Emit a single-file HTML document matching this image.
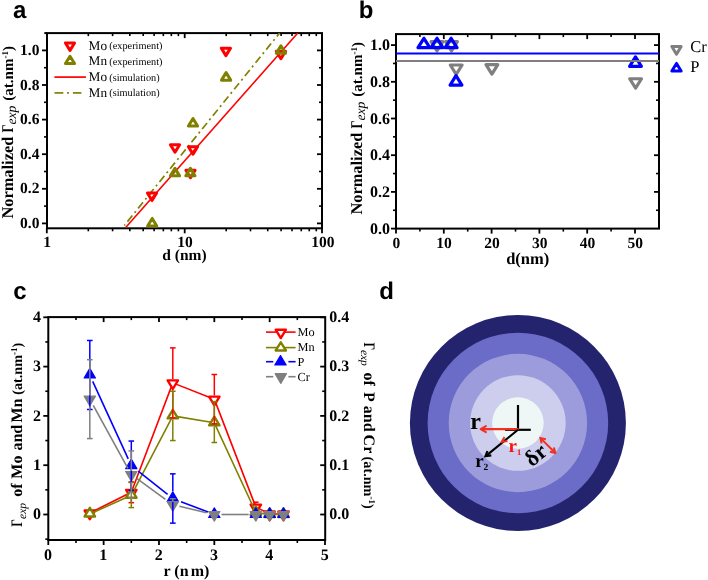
<!DOCTYPE html>
<html><head><meta charset="utf-8"><style>
html,body{margin:0;padding:0;background:#fff;}
svg{display:block;will-change:transform;text-rendering:geometricPrecision;}
</style></head><body>
<svg width="708" height="580" viewBox="0 0 708 580">
<rect width="708" height="580" fill="#fff"/>
<text x="13.00" y="17.50" font-size="24" font-weight="bold" text-anchor="start" fill="#000" style="font-family:'Liberation Sans',sans-serif" >a</text>
<text x="358.80" y="17.50" font-size="24" font-weight="bold" text-anchor="start" fill="#000" style="font-family:'Liberation Sans',sans-serif" >b</text>
<text x="13.30" y="298.80" font-size="24" font-weight="bold" text-anchor="start" fill="#000" style="font-family:'Liberation Sans',sans-serif" >c</text>
<text x="379.20" y="298.80" font-size="24" font-weight="bold" text-anchor="start" fill="#000" style="font-family:'Liberation Sans',sans-serif" >d</text>
<line x1="88.31" y1="228.30" x2="88.31" y2="231.30" stroke="#000" stroke-width="1.6" />
<line x1="88.31" y1="33.10" x2="88.31" y2="36.10" stroke="#000" stroke-width="1.6" />
<line x1="112.60" y1="228.30" x2="112.60" y2="231.30" stroke="#000" stroke-width="1.6" />
<line x1="112.60" y1="33.10" x2="112.60" y2="36.10" stroke="#000" stroke-width="1.6" />
<line x1="129.82" y1="228.30" x2="129.82" y2="231.30" stroke="#000" stroke-width="1.6" />
<line x1="129.82" y1="33.10" x2="129.82" y2="36.10" stroke="#000" stroke-width="1.6" />
<line x1="143.19" y1="228.30" x2="143.19" y2="231.30" stroke="#000" stroke-width="1.6" />
<line x1="143.19" y1="33.10" x2="143.19" y2="36.10" stroke="#000" stroke-width="1.6" />
<line x1="154.11" y1="228.30" x2="154.11" y2="231.30" stroke="#000" stroke-width="1.6" />
<line x1="154.11" y1="33.10" x2="154.11" y2="36.10" stroke="#000" stroke-width="1.6" />
<line x1="163.34" y1="228.30" x2="163.34" y2="231.30" stroke="#000" stroke-width="1.6" />
<line x1="163.34" y1="33.10" x2="163.34" y2="36.10" stroke="#000" stroke-width="1.6" />
<line x1="171.34" y1="228.30" x2="171.34" y2="231.30" stroke="#000" stroke-width="1.6" />
<line x1="171.34" y1="33.10" x2="171.34" y2="36.10" stroke="#000" stroke-width="1.6" />
<line x1="178.39" y1="228.30" x2="178.39" y2="231.30" stroke="#000" stroke-width="1.6" />
<line x1="178.39" y1="33.10" x2="178.39" y2="36.10" stroke="#000" stroke-width="1.6" />
<line x1="226.21" y1="228.30" x2="226.21" y2="231.30" stroke="#000" stroke-width="1.6" />
<line x1="226.21" y1="33.10" x2="226.21" y2="36.10" stroke="#000" stroke-width="1.6" />
<line x1="250.50" y1="228.30" x2="250.50" y2="231.30" stroke="#000" stroke-width="1.6" />
<line x1="250.50" y1="33.10" x2="250.50" y2="36.10" stroke="#000" stroke-width="1.6" />
<line x1="267.72" y1="228.30" x2="267.72" y2="231.30" stroke="#000" stroke-width="1.6" />
<line x1="267.72" y1="33.10" x2="267.72" y2="36.10" stroke="#000" stroke-width="1.6" />
<line x1="281.09" y1="228.30" x2="281.09" y2="231.30" stroke="#000" stroke-width="1.6" />
<line x1="281.09" y1="33.10" x2="281.09" y2="36.10" stroke="#000" stroke-width="1.6" />
<line x1="292.01" y1="228.30" x2="292.01" y2="231.30" stroke="#000" stroke-width="1.6" />
<line x1="292.01" y1="33.10" x2="292.01" y2="36.10" stroke="#000" stroke-width="1.6" />
<line x1="301.24" y1="228.30" x2="301.24" y2="231.30" stroke="#000" stroke-width="1.6" />
<line x1="301.24" y1="33.10" x2="301.24" y2="36.10" stroke="#000" stroke-width="1.6" />
<line x1="309.24" y1="228.30" x2="309.24" y2="231.30" stroke="#000" stroke-width="1.6" />
<line x1="309.24" y1="33.10" x2="309.24" y2="36.10" stroke="#000" stroke-width="1.6" />
<line x1="316.29" y1="228.30" x2="316.29" y2="231.30" stroke="#000" stroke-width="1.6" />
<line x1="316.29" y1="33.10" x2="316.29" y2="36.10" stroke="#000" stroke-width="1.6" />
<line x1="46.80" y1="228.30" x2="46.80" y2="233.30" stroke="#000" stroke-width="1.8" />
<line x1="184.70" y1="228.30" x2="184.70" y2="233.30" stroke="#000" stroke-width="1.8" />
<line x1="184.70" y1="33.10" x2="184.70" y2="38.10" stroke="#000" stroke-width="1.8" />
<line x1="322.00" y1="228.30" x2="322.00" y2="233.30" stroke="#000" stroke-width="1.8" />
<line x1="42.00" y1="223.40" x2="47.00" y2="223.40" stroke="#000" stroke-width="1.8" />
<line x1="317.00" y1="223.40" x2="322.00" y2="223.40" stroke="#000" stroke-width="1.8" />
<text x="39.40" y="228.00" font-size="15.5" font-weight="bold" text-anchor="end" fill="#000" style="font-family:'Liberation Serif',serif" >0.0</text>
<line x1="42.00" y1="188.80" x2="47.00" y2="188.80" stroke="#000" stroke-width="1.8" />
<line x1="317.00" y1="188.80" x2="322.00" y2="188.80" stroke="#000" stroke-width="1.8" />
<text x="39.40" y="193.40" font-size="15.5" font-weight="bold" text-anchor="end" fill="#000" style="font-family:'Liberation Serif',serif" >0.2</text>
<line x1="42.00" y1="154.20" x2="47.00" y2="154.20" stroke="#000" stroke-width="1.8" />
<line x1="317.00" y1="154.20" x2="322.00" y2="154.20" stroke="#000" stroke-width="1.8" />
<text x="39.40" y="158.80" font-size="15.5" font-weight="bold" text-anchor="end" fill="#000" style="font-family:'Liberation Serif',serif" >0.4</text>
<line x1="42.00" y1="119.60" x2="47.00" y2="119.60" stroke="#000" stroke-width="1.8" />
<line x1="317.00" y1="119.60" x2="322.00" y2="119.60" stroke="#000" stroke-width="1.8" />
<text x="39.40" y="124.20" font-size="15.5" font-weight="bold" text-anchor="end" fill="#000" style="font-family:'Liberation Serif',serif" >0.6</text>
<line x1="42.00" y1="85.00" x2="47.00" y2="85.00" stroke="#000" stroke-width="1.8" />
<line x1="317.00" y1="85.00" x2="322.00" y2="85.00" stroke="#000" stroke-width="1.8" />
<text x="39.40" y="89.60" font-size="15.5" font-weight="bold" text-anchor="end" fill="#000" style="font-family:'Liberation Serif',serif" >0.8</text>
<line x1="42.00" y1="50.40" x2="47.00" y2="50.40" stroke="#000" stroke-width="1.8" />
<line x1="317.00" y1="50.40" x2="322.00" y2="50.40" stroke="#000" stroke-width="1.8" />
<text x="39.40" y="55.00" font-size="15.5" font-weight="bold" text-anchor="end" fill="#000" style="font-family:'Liberation Serif',serif" >1.0</text>
<line x1="44.00" y1="206.10" x2="47.00" y2="206.10" stroke="#000" stroke-width="1.6" />
<line x1="319.00" y1="206.10" x2="322.00" y2="206.10" stroke="#000" stroke-width="1.6" />
<line x1="44.00" y1="171.50" x2="47.00" y2="171.50" stroke="#000" stroke-width="1.6" />
<line x1="319.00" y1="171.50" x2="322.00" y2="171.50" stroke="#000" stroke-width="1.6" />
<line x1="44.00" y1="136.90" x2="47.00" y2="136.90" stroke="#000" stroke-width="1.6" />
<line x1="319.00" y1="136.90" x2="322.00" y2="136.90" stroke="#000" stroke-width="1.6" />
<line x1="44.00" y1="102.30" x2="47.00" y2="102.30" stroke="#000" stroke-width="1.6" />
<line x1="319.00" y1="102.30" x2="322.00" y2="102.30" stroke="#000" stroke-width="1.6" />
<line x1="44.00" y1="67.70" x2="47.00" y2="67.70" stroke="#000" stroke-width="1.6" />
<line x1="319.00" y1="67.70" x2="322.00" y2="67.70" stroke="#000" stroke-width="1.6" />
<rect x="47.0" y="33.1" width="275.0" height="195.20000000000002" fill="none" stroke="#000" stroke-width="2.0"/>
<line x1="44.30" y1="33.10" x2="47.00" y2="33.10" stroke="#000" stroke-width="2.0" />
<text x="47.10" y="247.30" font-size="15.5" font-weight="bold" text-anchor="middle" fill="#000" style="font-family:'Liberation Serif',serif" >1</text>
<text x="185.00" y="247.30" font-size="15.5" font-weight="bold" text-anchor="middle" fill="#000" style="font-family:'Liberation Serif',serif" >10</text>
<text x="322.90" y="247.30" font-size="15.5" font-weight="bold" text-anchor="middle" fill="#000" style="font-family:'Liberation Serif',serif" >100</text>
<text x="184.50" y="259.60" font-size="15.5" font-weight="bold" text-anchor="middle" fill="#000" style="font-family:'Liberation Serif',serif" >d (nm)</text>
<text transform="translate(13.2,218.6) rotate(-90)" font-weight="bold" style="font-family:'Liberation Serif',serif" font-size="16.4">Normalized <tspan textLength="8.0" lengthAdjust="spacingAndGlyphs">Γ</tspan><tspan font-style="italic" font-weight="normal" font-size="13.6" dy="2.5">exp</tspan><tspan font-size="15" dy="-2.5" dx="1.3"> (at.nm</tspan><tspan font-size="9" dy="-5.5">-1</tspan><tspan font-size="15" dy="5.5">)</tspan></text>
<svg x="47.0" y="33.1" width="275.0" height="195.20000000000002" overflow="hidden" viewBox="47.0 33.1 275.0 195.20000000000002">
<line x1="125.90" y1="227.20" x2="297.80" y2="33.00" stroke="#ff0000" stroke-width="1.6" />
<line x1="124.30" y1="225.50" x2="279.60" y2="33.00" stroke="#808000" stroke-width="1.7" stroke-dasharray="2.0 3.6 7.8 3.6" stroke-dashoffset="0.6"/>
</svg>
<path d="M152.00,200.55 L147.40,193.05 L156.60,193.05 Z" fill="none" stroke="#ff0000" stroke-width="3.0" stroke-linejoin="round"/>
<path d="M175.00,152.25 L170.40,144.75 L179.60,144.75 Z" fill="none" stroke="#ff0000" stroke-width="3.0" stroke-linejoin="round"/>
<path d="M190.50,177.75 L185.90,170.25 L195.10,170.25 Z" fill="none" stroke="#ff0000" stroke-width="3.0" stroke-linejoin="round"/>
<path d="M193.00,154.25 L188.40,146.75 L197.60,146.75 Z" fill="none" stroke="#ff0000" stroke-width="3.0" stroke-linejoin="round"/>
<path d="M225.90,55.65 L221.30,48.15 L230.50,48.15 Z" fill="none" stroke="#ff0000" stroke-width="3.0" stroke-linejoin="round"/>
<path d="M280.90,58.75 L276.30,51.25 L285.50,51.25 Z" fill="none" stroke="#ff0000" stroke-width="3.0" stroke-linejoin="round"/>
<path d="M152.20,218.45 L147.60,225.95 L156.80,225.95 Z" fill="none" stroke="#808000" stroke-width="3.0" stroke-linejoin="round"/>
<path d="M175.00,168.35 L170.40,175.85 L179.60,175.85 Z" fill="none" stroke="#808000" stroke-width="3.0" stroke-linejoin="round"/>
<path d="M190.40,168.25 L185.80,175.75 L195.00,175.75 Z" fill="none" stroke="#808000" stroke-width="3.0" stroke-linejoin="round"/>
<path d="M193.00,118.55 L188.40,126.05 L197.60,126.05 Z" fill="none" stroke="#808000" stroke-width="3.0" stroke-linejoin="round"/>
<path d="M226.10,72.65 L221.50,80.15 L230.70,80.15 Z" fill="none" stroke="#808000" stroke-width="3.0" stroke-linejoin="round"/>
<path d="M280.90,45.75 L276.30,53.25 L285.50,53.25 Z" fill="none" stroke="#808000" stroke-width="3.0" stroke-linejoin="round"/>
<path d="M70.00,50.50 L65.45,42.90 L74.55,42.90 Z" fill="none" stroke="#ff0000" stroke-width="3.0" stroke-linejoin="round"/>
<path d="M70.00,56.25 L65.45,63.55 L74.55,63.55 Z" fill="none" stroke="#808000" stroke-width="3.0" stroke-linejoin="round"/>
<line x1="54.40" y1="77.10" x2="85.90" y2="77.10" stroke="#ff0000" stroke-width="1.7" />
<line x1="54.50" y1="92.90" x2="63.30" y2="92.90" stroke="#808000" stroke-width="1.7" />
<line x1="67.00" y1="92.90" x2="68.90" y2="92.90" stroke="#808000" stroke-width="1.7" />
<line x1="72.90" y1="92.90" x2="81.40" y2="92.90" stroke="#808000" stroke-width="1.7" />
<text x="88.60" y="49.50" font-size="13.3" font-weight="normal" text-anchor="start" fill="#000" style="font-family:'Liberation Serif',serif" >Mo</text>
<text x="109.30" y="49.10" font-size="10.3" font-weight="normal" text-anchor="start" fill="#000" style="font-family:'Liberation Serif',serif" >(experiment)</text>
<text x="88.60" y="65.00" font-size="13.3" font-weight="normal" text-anchor="start" fill="#000" style="font-family:'Liberation Serif',serif" >Mn</text>
<text x="109.30" y="64.60" font-size="10.3" font-weight="normal" text-anchor="start" fill="#000" style="font-family:'Liberation Serif',serif" >(experiment)</text>
<text x="88.60" y="81.30" font-size="13.3" font-weight="normal" text-anchor="start" fill="#000" style="font-family:'Liberation Serif',serif" >Mo</text>
<text x="109.30" y="80.90" font-size="10.3" font-weight="normal" text-anchor="start" fill="#000" style="font-family:'Liberation Serif',serif" >(simulation)</text>
<text x="88.60" y="96.60" font-size="13.3" font-weight="normal" text-anchor="start" fill="#000" style="font-family:'Liberation Serif',serif" >Mn</text>
<text x="109.30" y="96.20" font-size="10.3" font-weight="normal" text-anchor="start" fill="#000" style="font-family:'Liberation Serif',serif" >(simulation)</text>
<line x1="396.00" y1="228.60" x2="396.00" y2="233.60" stroke="#000" stroke-width="1.8" />
<line x1="419.90" y1="228.60" x2="419.90" y2="231.60" stroke="#000" stroke-width="1.6" />
<line x1="419.90" y1="34.10" x2="419.90" y2="37.10" stroke="#000" stroke-width="1.6" />
<line x1="443.80" y1="228.60" x2="443.80" y2="233.60" stroke="#000" stroke-width="1.8" />
<line x1="443.80" y1="34.10" x2="443.80" y2="39.10" stroke="#000" stroke-width="1.8" />
<line x1="467.70" y1="228.60" x2="467.70" y2="231.60" stroke="#000" stroke-width="1.6" />
<line x1="467.70" y1="34.10" x2="467.70" y2="37.10" stroke="#000" stroke-width="1.6" />
<line x1="491.60" y1="228.60" x2="491.60" y2="233.60" stroke="#000" stroke-width="1.8" />
<line x1="491.60" y1="34.10" x2="491.60" y2="39.10" stroke="#000" stroke-width="1.8" />
<line x1="515.50" y1="228.60" x2="515.50" y2="231.60" stroke="#000" stroke-width="1.6" />
<line x1="515.50" y1="34.10" x2="515.50" y2="37.10" stroke="#000" stroke-width="1.6" />
<line x1="539.40" y1="228.60" x2="539.40" y2="233.60" stroke="#000" stroke-width="1.8" />
<line x1="539.40" y1="34.10" x2="539.40" y2="39.10" stroke="#000" stroke-width="1.8" />
<line x1="563.30" y1="228.60" x2="563.30" y2="231.60" stroke="#000" stroke-width="1.6" />
<line x1="563.30" y1="34.10" x2="563.30" y2="37.10" stroke="#000" stroke-width="1.6" />
<line x1="587.20" y1="228.60" x2="587.20" y2="233.60" stroke="#000" stroke-width="1.8" />
<line x1="587.20" y1="34.10" x2="587.20" y2="39.10" stroke="#000" stroke-width="1.8" />
<line x1="611.10" y1="228.60" x2="611.10" y2="231.60" stroke="#000" stroke-width="1.6" />
<line x1="611.10" y1="34.10" x2="611.10" y2="37.10" stroke="#000" stroke-width="1.6" />
<line x1="635.00" y1="228.60" x2="635.00" y2="233.60" stroke="#000" stroke-width="1.8" />
<line x1="635.00" y1="34.10" x2="635.00" y2="39.10" stroke="#000" stroke-width="1.8" />
<line x1="391.00" y1="228.60" x2="396.00" y2="228.60" stroke="#000" stroke-width="1.8" />
<text x="389.90" y="233.70" font-size="16" font-weight="bold" text-anchor="end" fill="#000" style="font-family:'Liberation Serif',serif" >0.0</text>
<line x1="393.00" y1="210.25" x2="396.00" y2="210.25" stroke="#000" stroke-width="1.6" />
<line x1="656.00" y1="210.25" x2="659.00" y2="210.25" stroke="#000" stroke-width="1.6" />
<line x1="391.00" y1="191.90" x2="396.00" y2="191.90" stroke="#000" stroke-width="1.8" />
<line x1="654.00" y1="191.90" x2="659.00" y2="191.90" stroke="#000" stroke-width="1.8" />
<text x="389.90" y="197.00" font-size="16" font-weight="bold" text-anchor="end" fill="#000" style="font-family:'Liberation Serif',serif" >0.2</text>
<line x1="393.00" y1="173.55" x2="396.00" y2="173.55" stroke="#000" stroke-width="1.6" />
<line x1="656.00" y1="173.55" x2="659.00" y2="173.55" stroke="#000" stroke-width="1.6" />
<line x1="391.00" y1="155.20" x2="396.00" y2="155.20" stroke="#000" stroke-width="1.8" />
<line x1="654.00" y1="155.20" x2="659.00" y2="155.20" stroke="#000" stroke-width="1.8" />
<text x="389.90" y="160.30" font-size="16" font-weight="bold" text-anchor="end" fill="#000" style="font-family:'Liberation Serif',serif" >0.4</text>
<line x1="393.00" y1="136.85" x2="396.00" y2="136.85" stroke="#000" stroke-width="1.6" />
<line x1="656.00" y1="136.85" x2="659.00" y2="136.85" stroke="#000" stroke-width="1.6" />
<line x1="391.00" y1="118.50" x2="396.00" y2="118.50" stroke="#000" stroke-width="1.8" />
<line x1="654.00" y1="118.50" x2="659.00" y2="118.50" stroke="#000" stroke-width="1.8" />
<text x="389.90" y="123.60" font-size="16" font-weight="bold" text-anchor="end" fill="#000" style="font-family:'Liberation Serif',serif" >0.6</text>
<line x1="393.00" y1="100.15" x2="396.00" y2="100.15" stroke="#000" stroke-width="1.6" />
<line x1="656.00" y1="100.15" x2="659.00" y2="100.15" stroke="#000" stroke-width="1.6" />
<line x1="391.00" y1="81.80" x2="396.00" y2="81.80" stroke="#000" stroke-width="1.8" />
<line x1="654.00" y1="81.80" x2="659.00" y2="81.80" stroke="#000" stroke-width="1.8" />
<text x="389.90" y="86.90" font-size="16" font-weight="bold" text-anchor="end" fill="#000" style="font-family:'Liberation Serif',serif" >0.8</text>
<line x1="393.00" y1="63.45" x2="396.00" y2="63.45" stroke="#000" stroke-width="1.6" />
<line x1="656.00" y1="63.45" x2="659.00" y2="63.45" stroke="#000" stroke-width="1.6" />
<line x1="391.00" y1="45.10" x2="396.00" y2="45.10" stroke="#000" stroke-width="1.8" />
<line x1="654.00" y1="45.10" x2="659.00" y2="45.10" stroke="#000" stroke-width="1.8" />
<text x="389.90" y="50.20" font-size="16" font-weight="bold" text-anchor="end" fill="#000" style="font-family:'Liberation Serif',serif" >1.0</text>
<text x="396.30" y="247.90" font-size="15.5" font-weight="bold" text-anchor="middle" fill="#000" style="font-family:'Liberation Serif',serif" >0</text>
<text x="444.10" y="247.90" font-size="15.5" font-weight="bold" text-anchor="middle" fill="#000" style="font-family:'Liberation Serif',serif" >10</text>
<text x="491.90" y="247.90" font-size="15.5" font-weight="bold" text-anchor="middle" fill="#000" style="font-family:'Liberation Serif',serif" >20</text>
<text x="539.70" y="247.90" font-size="15.5" font-weight="bold" text-anchor="middle" fill="#000" style="font-family:'Liberation Serif',serif" >30</text>
<text x="587.50" y="247.90" font-size="15.5" font-weight="bold" text-anchor="middle" fill="#000" style="font-family:'Liberation Serif',serif" >40</text>
<text x="635.30" y="247.90" font-size="15.5" font-weight="bold" text-anchor="middle" fill="#000" style="font-family:'Liberation Serif',serif" >50</text>
<text x="527.70" y="264.00" font-size="16.5" font-weight="bold" text-anchor="middle" fill="#000" style="font-family:'Liberation Serif',serif" >d(nm)</text>
<text transform="translate(362.3,214.6) rotate(-90)" font-weight="bold" style="font-family:'Liberation Serif',serif" font-size="16.4">Normalized <tspan textLength="8.0" lengthAdjust="spacingAndGlyphs">Γ</tspan><tspan font-style="italic" font-weight="normal" font-size="13.6" dy="2.5">exp</tspan><tspan font-size="15" dy="-2.5" dx="1.3"> (at.nm</tspan><tspan font-size="9" dy="-5.5">-1</tspan><tspan font-size="15" dy="5.5">)</tspan></text>
<rect x="396.0" y="34.1" width="263.0" height="194.5" fill="none" stroke="#000" stroke-width="2.0"/>
<path d="M437.00,51.00 L431.10,41.60 L442.90,41.60 Z" fill="none" stroke="#7f7f7f" stroke-width="3.2" stroke-linejoin="round"/>
<path d="M451.50,51.00 L445.60,41.60 L457.40,41.60 Z" fill="none" stroke="#7f7f7f" stroke-width="3.2" stroke-linejoin="round"/>
<path d="M456.20,74.40 L450.30,65.00 L462.10,65.00 Z" fill="none" stroke="#7f7f7f" stroke-width="3.2" stroke-linejoin="round"/>
<path d="M491.90,74.05 L486.00,64.65 L497.80,64.65 Z" fill="none" stroke="#7f7f7f" stroke-width="3.2" stroke-linejoin="round"/>
<path d="M635.60,88.15 L629.70,78.75 L641.50,78.75 Z" fill="none" stroke="#7f7f7f" stroke-width="3.2" stroke-linejoin="round"/>
<path d="M423.90,38.30 L418.00,47.70 L429.80,47.70 Z" fill="none" stroke="#0000ff" stroke-width="3.2" stroke-linejoin="round"/>
<path d="M437.00,38.30 L431.10,47.70 L442.90,47.70 Z" fill="none" stroke="#0000ff" stroke-width="3.2" stroke-linejoin="round"/>
<path d="M451.10,38.30 L445.20,47.70 L457.00,47.70 Z" fill="none" stroke="#0000ff" stroke-width="3.2" stroke-linejoin="round"/>
<path d="M456.00,75.70 L450.10,85.10 L461.90,85.10 Z" fill="none" stroke="#0000ff" stroke-width="3.2" stroke-linejoin="round"/>
<path d="M635.50,56.90 L629.60,66.30 L641.40,66.30 Z" fill="none" stroke="#0000ff" stroke-width="3.2" stroke-linejoin="round"/>
<line x1="396.00" y1="53.60" x2="659.00" y2="53.60" stroke="#0000ff" stroke-width="2.0" />
<line x1="396.00" y1="61.00" x2="659.00" y2="61.00" stroke="#7f7f7f" stroke-width="2.0" />
<path d="M676.50,54.20 L671.85,46.40 L681.15,46.40 Z" fill="none" stroke="#7f7f7f" stroke-width="3.0" stroke-linejoin="round"/>
<path d="M676.50,63.45 L671.85,70.95 L681.15,70.95 Z" fill="none" stroke="#0000ff" stroke-width="3.0" stroke-linejoin="round"/>
<text x="690.30" y="51.80" font-size="16.5" font-weight="normal" text-anchor="start" fill="#000" style="font-family:'Liberation Serif',serif" >Cr</text>
<text x="690.30" y="71.50" font-size="16.5" font-weight="normal" text-anchor="start" fill="#000" style="font-family:'Liberation Serif',serif" >P</text>
<line x1="48.30" y1="540.00" x2="48.30" y2="545.00" stroke="#000" stroke-width="1.8" />
<text x="48.00" y="560.20" font-size="16" font-weight="bold" text-anchor="middle" fill="#000" style="font-family:'Liberation Serif',serif" >0</text>
<line x1="75.97" y1="540.00" x2="75.97" y2="543.00" stroke="#000" stroke-width="1.6" />
<line x1="75.97" y1="317.10" x2="75.97" y2="320.10" stroke="#000" stroke-width="1.6" />
<line x1="103.64" y1="540.00" x2="103.64" y2="545.00" stroke="#000" stroke-width="1.8" />
<line x1="103.64" y1="317.10" x2="103.64" y2="322.10" stroke="#000" stroke-width="1.8" />
<text x="103.34" y="560.20" font-size="16" font-weight="bold" text-anchor="middle" fill="#000" style="font-family:'Liberation Serif',serif" >1</text>
<line x1="131.31" y1="540.00" x2="131.31" y2="543.00" stroke="#000" stroke-width="1.6" />
<line x1="131.31" y1="317.10" x2="131.31" y2="320.10" stroke="#000" stroke-width="1.6" />
<line x1="158.98" y1="540.00" x2="158.98" y2="545.00" stroke="#000" stroke-width="1.8" />
<line x1="158.98" y1="317.10" x2="158.98" y2="322.10" stroke="#000" stroke-width="1.8" />
<text x="158.68" y="560.20" font-size="16" font-weight="bold" text-anchor="middle" fill="#000" style="font-family:'Liberation Serif',serif" >2</text>
<line x1="186.65" y1="540.00" x2="186.65" y2="543.00" stroke="#000" stroke-width="1.6" />
<line x1="186.65" y1="317.10" x2="186.65" y2="320.10" stroke="#000" stroke-width="1.6" />
<line x1="214.32" y1="540.00" x2="214.32" y2="545.00" stroke="#000" stroke-width="1.8" />
<line x1="214.32" y1="317.10" x2="214.32" y2="322.10" stroke="#000" stroke-width="1.8" />
<text x="214.02" y="560.20" font-size="16" font-weight="bold" text-anchor="middle" fill="#000" style="font-family:'Liberation Serif',serif" >3</text>
<line x1="241.99" y1="540.00" x2="241.99" y2="543.00" stroke="#000" stroke-width="1.6" />
<line x1="241.99" y1="317.10" x2="241.99" y2="320.10" stroke="#000" stroke-width="1.6" />
<line x1="269.66" y1="540.00" x2="269.66" y2="545.00" stroke="#000" stroke-width="1.8" />
<line x1="269.66" y1="317.10" x2="269.66" y2="322.10" stroke="#000" stroke-width="1.8" />
<text x="269.36" y="560.20" font-size="16" font-weight="bold" text-anchor="middle" fill="#000" style="font-family:'Liberation Serif',serif" >4</text>
<line x1="297.33" y1="540.00" x2="297.33" y2="543.00" stroke="#000" stroke-width="1.6" />
<line x1="297.33" y1="317.10" x2="297.33" y2="320.10" stroke="#000" stroke-width="1.6" />
<line x1="325.00" y1="540.00" x2="325.00" y2="545.00" stroke="#000" stroke-width="1.8" />
<text x="324.70" y="560.20" font-size="16" font-weight="bold" text-anchor="middle" fill="#000" style="font-family:'Liberation Serif',serif" >5</text>
<line x1="45.30" y1="539.15" x2="48.30" y2="539.15" stroke="#000" stroke-width="1.6" />
<line x1="43.30" y1="514.50" x2="48.30" y2="514.50" stroke="#000" stroke-width="1.8" />
<line x1="320.20" y1="514.50" x2="325.20" y2="514.50" stroke="#000" stroke-width="1.8" />
<text x="41.00" y="519.10" font-size="16" font-weight="bold" text-anchor="end" fill="#000" style="font-family:'Liberation Serif',serif" >0</text>
<text x="329.30" y="519.10" font-size="16" font-weight="bold" text-anchor="start" fill="#000" style="font-family:'Liberation Serif',serif" >0.0</text>
<line x1="45.30" y1="489.85" x2="48.30" y2="489.85" stroke="#000" stroke-width="1.6" />
<line x1="322.20" y1="489.85" x2="325.20" y2="489.85" stroke="#000" stroke-width="1.6" />
<line x1="43.30" y1="465.20" x2="48.30" y2="465.20" stroke="#000" stroke-width="1.8" />
<line x1="320.20" y1="465.20" x2="325.20" y2="465.20" stroke="#000" stroke-width="1.8" />
<text x="41.00" y="469.80" font-size="16" font-weight="bold" text-anchor="end" fill="#000" style="font-family:'Liberation Serif',serif" >1</text>
<text x="329.30" y="469.80" font-size="16" font-weight="bold" text-anchor="start" fill="#000" style="font-family:'Liberation Serif',serif" >0.1</text>
<line x1="45.30" y1="440.55" x2="48.30" y2="440.55" stroke="#000" stroke-width="1.6" />
<line x1="322.20" y1="440.55" x2="325.20" y2="440.55" stroke="#000" stroke-width="1.6" />
<line x1="43.30" y1="415.90" x2="48.30" y2="415.90" stroke="#000" stroke-width="1.8" />
<line x1="320.20" y1="415.90" x2="325.20" y2="415.90" stroke="#000" stroke-width="1.8" />
<text x="41.00" y="420.50" font-size="16" font-weight="bold" text-anchor="end" fill="#000" style="font-family:'Liberation Serif',serif" >2</text>
<text x="329.30" y="420.50" font-size="16" font-weight="bold" text-anchor="start" fill="#000" style="font-family:'Liberation Serif',serif" >0.2</text>
<line x1="45.30" y1="391.25" x2="48.30" y2="391.25" stroke="#000" stroke-width="1.6" />
<line x1="322.20" y1="391.25" x2="325.20" y2="391.25" stroke="#000" stroke-width="1.6" />
<line x1="43.30" y1="366.60" x2="48.30" y2="366.60" stroke="#000" stroke-width="1.8" />
<line x1="320.20" y1="366.60" x2="325.20" y2="366.60" stroke="#000" stroke-width="1.8" />
<text x="41.00" y="371.20" font-size="16" font-weight="bold" text-anchor="end" fill="#000" style="font-family:'Liberation Serif',serif" >3</text>
<text x="329.30" y="371.20" font-size="16" font-weight="bold" text-anchor="start" fill="#000" style="font-family:'Liberation Serif',serif" >0.3</text>
<line x1="45.30" y1="341.95" x2="48.30" y2="341.95" stroke="#000" stroke-width="1.6" />
<line x1="322.20" y1="341.95" x2="325.20" y2="341.95" stroke="#000" stroke-width="1.6" />
<line x1="43.30" y1="317.30" x2="48.30" y2="317.30" stroke="#000" stroke-width="1.8" />
<line x1="320.20" y1="317.30" x2="325.20" y2="317.30" stroke="#000" stroke-width="1.8" />
<text x="41.00" y="321.90" font-size="16" font-weight="bold" text-anchor="end" fill="#000" style="font-family:'Liberation Serif',serif" >4</text>
<text x="329.30" y="321.90" font-size="16" font-weight="bold" text-anchor="start" fill="#000" style="font-family:'Liberation Serif',serif" >0.4</text>
<rect x="48.3" y="317.1" width="276.9" height="222.89999999999998" fill="none" stroke="#000" stroke-width="2.0"/>
<text x="163.50" y="575.80" font-size="16" font-weight="bold" text-anchor="start" fill="#000" style="font-family:'Liberation Serif',serif" >r (n<tspan dx="2.2">m)</tspan></text>
<text transform="translate(22.2,526.8) rotate(-90)" font-size="16" font-weight="bold" style="font-family:'Liberation Serif',serif"><tspan x="0" textLength="7.6" lengthAdjust="spacingAndGlyphs">Γ</tspan><tspan x="7.9" font-style="italic" font-weight="normal" font-size="11.5" dy="3.3">exp</tspan><tspan x="30.0" dy="-3.3">of</tspan><tspan x="48.1">Mo</tspan><tspan x="76.2">and</tspan><tspan x="104.3">Mn</tspan><tspan x="132.0" font-size="14.2">(at.nm</tspan><tspan font-size="9" dy="-5">-1</tspan><tspan font-size="14.2" dy="5">)</tspan></text>
<text transform="translate(364.3,342.6) rotate(90)" font-size="16" font-weight="bold" style="font-family:'Liberation Serif',serif"><tspan x="0" textLength="7.6" lengthAdjust="spacingAndGlyphs">Γ</tspan><tspan x="7.3" font-style="italic" font-weight="normal" font-size="11.5" dy="3.3">exp</tspan><tspan x="29.8" dy="-3.3">of</tspan><tspan x="49.5">P</tspan><tspan x="63.2">and</tspan><tspan x="92.0">Cr</tspan><tspan x="114.0" font-size="14.2">(at.nm</tspan><tspan font-size="9" dy="-5">-1</tspan><tspan font-size="14.2" dy="5">)</tspan></text>
<path d="M89.81,513.02 L131.31,492.31 L172.81,382.87 L214.32,399.14 L255.82,507.11 L269.66,514.01 L283.50,514.01" fill="none" stroke="#ff0000" stroke-width="1.6" stroke-linejoin="round"/>
<path d="M89.81,519.15 L84.61,510.55 L95.01,510.55 Z" fill="#fff" stroke="#ff0000" stroke-width="2.4" stroke-linejoin="round"/>
<path d="M131.31,498.45 L126.11,489.85 L136.51,489.85 Z" fill="#fff" stroke="#ff0000" stroke-width="2.4" stroke-linejoin="round"/>
<path d="M172.81,389.00 L167.62,380.40 L178.01,380.40 Z" fill="#fff" stroke="#ff0000" stroke-width="2.4" stroke-linejoin="round"/>
<path d="M214.32,405.27 L209.12,396.67 L219.52,396.67 Z" fill="#fff" stroke="#ff0000" stroke-width="2.4" stroke-linejoin="round"/>
<path d="M255.82,513.24 L250.62,504.64 L261.02,504.64 Z" fill="#fff" stroke="#ff0000" stroke-width="2.4" stroke-linejoin="round"/>
<path d="M269.66,520.14 L264.46,511.54 L274.86,511.54 Z" fill="#fff" stroke="#ff0000" stroke-width="2.4" stroke-linejoin="round"/>
<path d="M283.50,520.14 L278.30,511.54 L288.69,511.54 Z" fill="#fff" stroke="#ff0000" stroke-width="2.4" stroke-linejoin="round"/>
<path d="M89.81,514.01 L131.31,495.27 L172.81,415.90 L214.32,422.80 L255.82,512.53 L269.66,514.50 L283.50,514.50" fill="none" stroke="#808000" stroke-width="1.6" stroke-linejoin="round"/>
<path d="M89.81,507.87 L84.61,516.47 L95.01,516.47 Z" fill="#fff" stroke="#808000" stroke-width="2.4" stroke-linejoin="round"/>
<path d="M131.31,489.14 L126.11,497.74 L136.51,497.74 Z" fill="#fff" stroke="#808000" stroke-width="2.4" stroke-linejoin="round"/>
<path d="M172.81,409.77 L167.62,418.37 L178.01,418.37 Z" fill="#fff" stroke="#808000" stroke-width="2.4" stroke-linejoin="round"/>
<path d="M214.32,416.67 L209.12,425.27 L219.52,425.27 Z" fill="#fff" stroke="#808000" stroke-width="2.4" stroke-linejoin="round"/>
<path d="M255.82,506.39 L250.62,514.99 L261.02,514.99 Z" fill="#fff" stroke="#808000" stroke-width="2.4" stroke-linejoin="round"/>
<path d="M269.66,508.37 L264.46,516.97 L274.86,516.97 Z" fill="#fff" stroke="#808000" stroke-width="2.4" stroke-linejoin="round"/>
<path d="M283.50,508.37 L278.30,516.97 L288.69,516.97 Z" fill="#fff" stroke="#808000" stroke-width="2.4" stroke-linejoin="round"/>
<line x1="92.70" y1="381.31" x2="128.22" y2="458.94" stroke="#0000ff" stroke-width="1.6" />
<line x1="138.22" y1="471.15" x2="167.60" y2="494.36" stroke="#0000ff" stroke-width="1.6" />
<line x1="180.98" y1="501.63" x2="208.12" y2="512.10" stroke="#0000ff" stroke-width="1.6" />
<path d="M89.81,368.38 L84.16,377.98 L95.46,377.98 Z" fill="#0000ff" stroke="#0000ff" stroke-width="1.2" stroke-linejoin="round"/>
<path d="M131.31,459.09 L125.66,468.69 L136.96,468.69 Z" fill="#0000ff" stroke="#0000ff" stroke-width="1.2" stroke-linejoin="round"/>
<path d="M172.81,491.88 L167.16,501.48 L178.47,501.48 Z" fill="#0000ff" stroke="#0000ff" stroke-width="1.2" stroke-linejoin="round"/>
<path d="M214.32,507.90 L208.67,517.50 L219.97,517.50 Z" fill="#0000ff" stroke="#0000ff" stroke-width="1.2" stroke-linejoin="round"/>
<path d="M255.82,507.90 L250.17,517.50 L261.47,517.50 Z" fill="#0000ff" stroke="#0000ff" stroke-width="1.2" stroke-linejoin="round"/>
<path d="M269.66,507.90 L264.01,517.50 L275.31,517.50 Z" fill="#0000ff" stroke="#0000ff" stroke-width="1.2" stroke-linejoin="round"/>
<path d="M283.50,507.90 L277.85,517.50 L289.14,517.50 Z" fill="#0000ff" stroke="#0000ff" stroke-width="1.2" stroke-linejoin="round"/>
<line x1="93.28" y1="405.46" x2="127.88" y2="468.34" stroke="#7f7f7f" stroke-width="1.6" />
<line x1="136.68" y1="478.45" x2="165.42" y2="499.28" stroke="#7f7f7f" stroke-width="1.6" />
<line x1="179.40" y1="506.20" x2="206.57" y2="512.66" stroke="#7f7f7f" stroke-width="1.6" />
<line x1="221.49" y1="514.50" x2="248.66" y2="514.50" stroke="#7f7f7f" stroke-width="1.6" />
<path d="M89.81,405.74 L84.16,396.14 L95.46,396.14 Z" fill="#7f7f7f" stroke="#7f7f7f" stroke-width="1.2" stroke-linejoin="round"/>
<path d="M131.31,481.17 L125.66,471.57 L136.96,471.57 Z" fill="#7f7f7f" stroke="#7f7f7f" stroke-width="1.2" stroke-linejoin="round"/>
<path d="M172.81,511.24 L167.16,501.64 L178.47,501.64 Z" fill="#7f7f7f" stroke="#7f7f7f" stroke-width="1.2" stroke-linejoin="round"/>
<path d="M214.32,521.10 L208.67,511.50 L219.97,511.50 Z" fill="#7f7f7f" stroke="#7f7f7f" stroke-width="1.2" stroke-linejoin="round"/>
<path d="M255.82,521.10 L250.17,511.50 L261.47,511.50 Z" fill="#7f7f7f" stroke="#7f7f7f" stroke-width="1.2" stroke-linejoin="round"/>
<path d="M269.66,521.10 L264.01,511.50 L275.31,511.50 Z" fill="#7f7f7f" stroke="#7f7f7f" stroke-width="1.2" stroke-linejoin="round"/>
<path d="M283.50,521.10 L277.85,511.50 L289.14,511.50 Z" fill="#7f7f7f" stroke="#7f7f7f" stroke-width="1.2" stroke-linejoin="round"/>
<line x1="131.31" y1="488.65" x2="131.31" y2="481.96" stroke="#ff0000" stroke-width="1.5" />
<line x1="128.51" y1="481.96" x2="134.11" y2="481.96" stroke="#ff0000" stroke-width="1.5" />
<line x1="131.31" y1="499.65" x2="131.31" y2="502.67" stroke="#ff0000" stroke-width="1.5" />
<line x1="128.51" y1="502.67" x2="134.11" y2="502.67" stroke="#ff0000" stroke-width="1.5" />
<line x1="172.81" y1="379.20" x2="172.81" y2="347.87" stroke="#ff0000" stroke-width="1.5" />
<line x1="170.01" y1="347.87" x2="175.62" y2="347.87" stroke="#ff0000" stroke-width="1.5" />
<line x1="172.81" y1="390.20" x2="172.81" y2="417.87" stroke="#ff0000" stroke-width="1.5" />
<line x1="170.01" y1="417.87" x2="175.62" y2="417.87" stroke="#ff0000" stroke-width="1.5" />
<line x1="214.32" y1="395.47" x2="214.32" y2="374.49" stroke="#ff0000" stroke-width="1.5" />
<line x1="211.52" y1="374.49" x2="217.12" y2="374.49" stroke="#ff0000" stroke-width="1.5" />
<line x1="214.32" y1="406.47" x2="214.32" y2="423.79" stroke="#ff0000" stroke-width="1.5" />
<line x1="211.52" y1="423.79" x2="217.12" y2="423.79" stroke="#ff0000" stroke-width="1.5" />
<line x1="255.82" y1="503.44" x2="255.82" y2="502.18" stroke="#ff0000" stroke-width="1.5" />
<line x1="253.02" y1="502.18" x2="258.62" y2="502.18" stroke="#ff0000" stroke-width="1.5" />
<line x1="131.31" y1="487.94" x2="131.31" y2="482.45" stroke="#808000" stroke-width="1.5" />
<line x1="128.51" y1="482.45" x2="134.11" y2="482.45" stroke="#808000" stroke-width="1.5" />
<line x1="131.31" y1="498.94" x2="131.31" y2="507.60" stroke="#808000" stroke-width="1.5" />
<line x1="128.51" y1="507.60" x2="134.11" y2="507.60" stroke="#808000" stroke-width="1.5" />
<line x1="172.81" y1="408.57" x2="172.81" y2="391.25" stroke="#808000" stroke-width="1.5" />
<line x1="170.01" y1="391.25" x2="175.62" y2="391.25" stroke="#808000" stroke-width="1.5" />
<line x1="172.81" y1="419.57" x2="172.81" y2="440.55" stroke="#808000" stroke-width="1.5" />
<line x1="170.01" y1="440.55" x2="175.62" y2="440.55" stroke="#808000" stroke-width="1.5" />
<line x1="214.32" y1="415.47" x2="214.32" y2="401.60" stroke="#808000" stroke-width="1.5" />
<line x1="211.52" y1="401.60" x2="217.12" y2="401.60" stroke="#808000" stroke-width="1.5" />
<line x1="214.32" y1="426.47" x2="214.32" y2="442.52" stroke="#808000" stroke-width="1.5" />
<line x1="211.52" y1="442.52" x2="217.12" y2="442.52" stroke="#808000" stroke-width="1.5" />
<line x1="89.81" y1="367.78" x2="89.81" y2="340.47" stroke="#0000ff" stroke-width="1.5" />
<line x1="87.01" y1="340.47" x2="92.61" y2="340.47" stroke="#0000ff" stroke-width="1.5" />
<line x1="89.81" y1="378.58" x2="89.81" y2="409.49" stroke="#0000ff" stroke-width="1.5" />
<line x1="87.01" y1="409.49" x2="92.61" y2="409.49" stroke="#0000ff" stroke-width="1.5" />
<line x1="131.31" y1="458.49" x2="131.31" y2="441.04" stroke="#0000ff" stroke-width="1.5" />
<line x1="128.51" y1="441.04" x2="134.11" y2="441.04" stroke="#0000ff" stroke-width="1.5" />
<line x1="131.31" y1="469.29" x2="131.31" y2="490.34" stroke="#0000ff" stroke-width="1.5" />
<line x1="128.51" y1="490.34" x2="134.11" y2="490.34" stroke="#0000ff" stroke-width="1.5" />
<line x1="172.81" y1="491.28" x2="172.81" y2="473.83" stroke="#0000ff" stroke-width="1.5" />
<line x1="170.01" y1="473.83" x2="175.62" y2="473.83" stroke="#0000ff" stroke-width="1.5" />
<line x1="172.81" y1="502.08" x2="172.81" y2="523.13" stroke="#0000ff" stroke-width="1.5" />
<line x1="170.01" y1="523.13" x2="175.62" y2="523.13" stroke="#0000ff" stroke-width="1.5" />
<line x1="89.81" y1="395.54" x2="89.81" y2="359.70" stroke="#7f7f7f" stroke-width="1.5" />
<line x1="87.01" y1="359.70" x2="92.61" y2="359.70" stroke="#7f7f7f" stroke-width="1.5" />
<line x1="89.81" y1="406.34" x2="89.81" y2="438.58" stroke="#7f7f7f" stroke-width="1.5" />
<line x1="87.01" y1="438.58" x2="92.61" y2="438.58" stroke="#7f7f7f" stroke-width="1.5" />
<line x1="131.31" y1="470.97" x2="131.31" y2="450.90" stroke="#7f7f7f" stroke-width="1.5" />
<line x1="128.51" y1="450.90" x2="134.11" y2="450.90" stroke="#7f7f7f" stroke-width="1.5" />
<line x1="131.31" y1="481.77" x2="131.31" y2="498.23" stroke="#7f7f7f" stroke-width="1.5" />
<line x1="128.51" y1="498.23" x2="134.11" y2="498.23" stroke="#7f7f7f" stroke-width="1.5" />
<line x1="172.81" y1="501.04" x2="172.81" y2="498.72" stroke="#7f7f7f" stroke-width="1.5" />
<line x1="170.01" y1="498.72" x2="175.62" y2="498.72" stroke="#7f7f7f" stroke-width="1.5" />
<line x1="266.00" y1="332.10" x2="295.60" y2="332.10" stroke="#ff0000" stroke-width="1.6" />
<path d="M280.80,338.10 L275.65,329.70 L285.95,329.70 Z" fill="#fff" stroke="#ff0000" stroke-width="2.4" stroke-linejoin="round"/>
<line x1="266.00" y1="347.60" x2="295.60" y2="347.60" stroke="#808000" stroke-width="1.6" />
<path d="M280.80,342.35 L275.65,350.45 L285.95,350.45 Z" fill="#fff" stroke="#808000" stroke-width="2.4" stroke-linejoin="round"/>
<line x1="266.00" y1="361.70" x2="273.30" y2="361.70" stroke="#0000ff" stroke-width="1.6" />
<line x1="288.40" y1="361.70" x2="295.60" y2="361.70" stroke="#0000ff" stroke-width="1.6" />
<path d="M280.50,355.60 L274.80,365.00 L286.20,365.00 Z" fill="#0000ff" stroke="#0000ff" stroke-width="1.2" stroke-linejoin="round"/>
<line x1="266.00" y1="376.70" x2="273.30" y2="376.70" stroke="#7f7f7f" stroke-width="1.6" />
<line x1="288.40" y1="376.70" x2="295.60" y2="376.70" stroke="#7f7f7f" stroke-width="1.6" />
<path d="M280.80,383.35 L275.15,373.65 L286.45,373.65 Z" fill="#7f7f7f" stroke="#7f7f7f" stroke-width="1.2" stroke-linejoin="round"/>
<text x="297.60" y="335.90" font-size="12.3" font-weight="normal" text-anchor="start" fill="#000" style="font-family:'Liberation Serif',serif" >Mo</text>
<text x="297.60" y="351.40" font-size="12.3" font-weight="normal" text-anchor="start" fill="#000" style="font-family:'Liberation Serif',serif" >Mn</text>
<text x="297.60" y="366.00" font-size="12.3" font-weight="normal" text-anchor="start" fill="#000" style="font-family:'Liberation Serif',serif" >P</text>
<text x="297.60" y="381.30" font-size="12.3" font-weight="normal" text-anchor="start" fill="#000" style="font-family:'Liberation Serif',serif" >Cr</text>
<circle cx="517.9" cy="423.0" r="108.0" fill="#24236e"/>
<circle cx="517.9" cy="423.0" r="90.3" fill="#6b6bc8"/>
<circle cx="517.9" cy="423.0" r="69.2" fill="#9c9cdd"/>
<circle cx="517.9" cy="423.0" r="47.8" fill="#cdcdee"/>
<circle cx="517.9" cy="423.0" r="25.8" fill="#eef7f5"/>
<line x1="518.00" y1="405.00" x2="518.00" y2="430.60" stroke="#000" stroke-width="2.2" />
<line x1="505.10" y1="429.80" x2="530.80" y2="429.80" stroke="#000" stroke-width="2.2" />
<line x1="481.00" y1="429.10" x2="518.60" y2="429.10" stroke="#f03020" stroke-width="2.1" />
<polyline points="485.9,426.1 480.6,429.1 485.9,432.1" fill="none" stroke="#f03020" stroke-width="2.0" stroke-linecap="round" stroke-linejoin="round"/>
<line x1="518.00" y1="429.80" x2="486.30" y2="455.60" stroke="#000" stroke-width="2.1" />
<polyline points="487.4,451.0 485.4,456.3 491.3,455.4" fill="none" stroke="#000" stroke-width="2.1" stroke-linejoin="miter"/>
<polyline points="504.5,437.0 501.5,441.9 507.5,441.0" fill="none" stroke="#f03020" stroke-width="1.9" stroke-linejoin="miter"/>
<line x1="541.00" y1="438.60" x2="554.60" y2="452.20" stroke="#f03020" stroke-width="2.0" />
<polyline points="541.6,443.4 540.4,438.0 545.8,439.2" fill="none" stroke="#f03020" stroke-width="2.0" stroke-linejoin="miter"/>
<polyline points="553.9,447.6 555.2,452.9 549.9,451.7" fill="none" stroke="#f03020" stroke-width="2.0" stroke-linejoin="miter"/>
<text x="470.30" y="429.00" font-size="24" font-weight="bold" text-anchor="start" fill="#000" style="font-family:'Liberation Serif',serif" >r</text>
<text x="475.30" y="466.70" font-size="19" font-weight="bold" text-anchor="start" fill="#000" style="font-family:'Liberation Serif',serif" >r</text>
<text x="483.40" y="470.10" font-size="9.5" font-weight="bold" text-anchor="start" fill="#000" style="font-family:'Liberation Serif',serif" >2</text>
<text x="508.60" y="451.70" font-size="19" font-weight="bold" text-anchor="start" fill="#ff1010" style="font-family:'Liberation Serif',serif" >r</text>
<text x="517.00" y="454.70" font-size="8.5" font-weight="bold" text-anchor="start" fill="#ff1010" style="font-family:'Liberation Serif',serif" >1</text>
<text transform="translate(536.4,455.9) rotate(-40)" font-size="22.5" font-weight="bold" text-anchor="middle" style="font-family:'Liberation Serif',serif" dy="6">δr</text>
</svg>
</body></html>
